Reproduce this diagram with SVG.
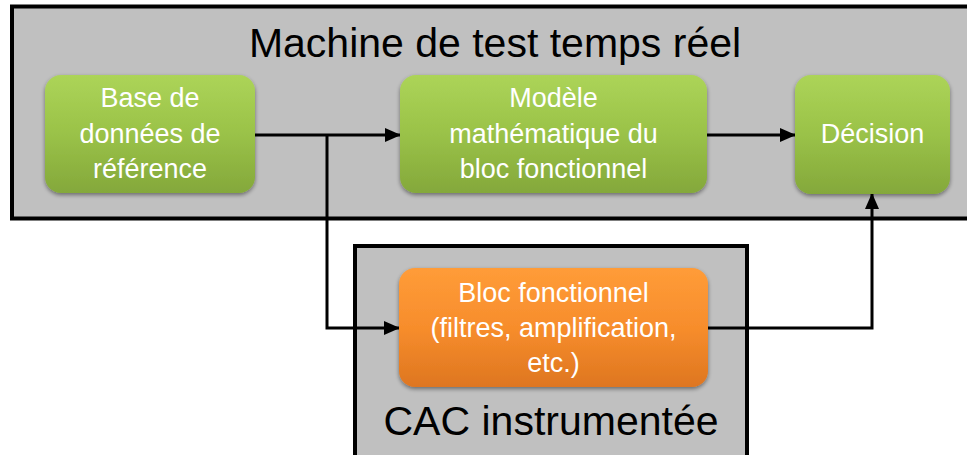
<svg xmlns="http://www.w3.org/2000/svg" width="967" height="455" viewBox="0 0 967 455">
  <defs>
    <linearGradient id="gGreen" x1="0" y1="0" x2="0" y2="1">
      <stop offset="0" stop-color="#ACD458"/>
      <stop offset="0.5" stop-color="#9AC248"/>
      <stop offset="1" stop-color="#84A83B"/>
    </linearGradient>
    <linearGradient id="gOrange" x1="0" y1="0" x2="0" y2="1">
      <stop offset="0" stop-color="#FF9C38"/>
      <stop offset="0.5" stop-color="#F78D2C"/>
      <stop offset="1" stop-color="#DE7620"/>
    </linearGradient>
    <filter id="shadow" x="-10%" y="-10%" width="120%" height="130%">
      <feGaussianBlur in="SourceAlpha" stdDeviation="2"/>
      <feOffset dx="0" dy="2" result="b"/>
      <feComponentTransfer><feFuncA type="linear" slope="0.45"/></feComponentTransfer>
      <feMerge><feMergeNode/><feMergeNode in="SourceGraphic"/></feMerge>
    </filter>
    <marker id="arrow" markerUnits="userSpaceOnUse" markerWidth="16" markerHeight="14" refX="15" refY="7" orient="auto">
      <path d="M0,0 L16,7 L0,14 Z" fill="#000"/>
    </marker>
  </defs>
  <style>
    .container { fill: #C0C0C0; stroke: #000; stroke-width: 4; }
    .green { fill: url(#gGreen); filter: url(#shadow); }
    .orange { fill: url(#gOrange); filter: url(#shadow); }
    .label { font-family: "Liberation Sans", Arial, sans-serif; font-size: 27px; fill: #FFFFFF; text-anchor: middle; }
    .big { font-family: "Liberation Sans", Arial, sans-serif; font-size: 41px; fill: #000; text-anchor: middle; }
    .conn { fill: none; stroke: #000; stroke-width: 3; }
  </style>
  <rect width="967" height="455" fill="#FFFFFF"/>

  <g id="machine">
    <rect class="container" x="12" y="6.5" width="970" height="212"/>
    <text class="big" x="495" y="57">Machine de test temps réel</text>
  </g>

  <g id="cac">
    <rect class="container" x="355" y="246" width="392" height="220"/>
    <text class="big" x="551" y="435">CAC instrumentée</text>
  </g>

  <g id="connectors">
    <line class="conn" x1="255" y1="135" x2="400" y2="135" marker-end="url(#arrow)"/>
    <polyline class="conn" points="327,135 327,328 399,328" marker-end="url(#arrow)"/>
    <line class="conn" x1="707" y1="135" x2="795" y2="135" marker-end="url(#arrow)"/>
    <polyline class="conn" points="708,328 872,328 872,194" marker-end="url(#arrow)"/>
  </g>

  <g id="base">
    <rect class="green" x="45" y="75" width="210" height="118" rx="16"/>
    <text class="label" x="150" y="107">Base de</text>
    <text class="label" x="150" y="143">données de</text>
    <text class="label" x="150" y="178">référence</text>
  </g>

  <g id="modele">
    <rect class="green" x="400" y="75" width="307" height="118" rx="16"/>
    <text class="label" x="553.5" y="107">Modèle</text>
    <text class="label" x="553.5" y="143">mathématique du</text>
    <text class="label" x="553.5" y="178">bloc fonctionnel</text>
  </g>

  <g id="decision">
    <rect class="green" x="795" y="75" width="155" height="119" rx="16"/>
    <text class="label" x="872.5" y="143">Décision</text>
  </g>

  <g id="bloc">
    <rect class="orange" x="399" y="268" width="309" height="119" rx="16"/>
    <text class="label" x="553.5" y="302">Bloc fonctionnel</text>
    <text class="label" x="553.5" y="337">(filtres, amplification,</text>
    <text class="label" x="553.5" y="372">etc.)</text>
  </g>
</svg>
